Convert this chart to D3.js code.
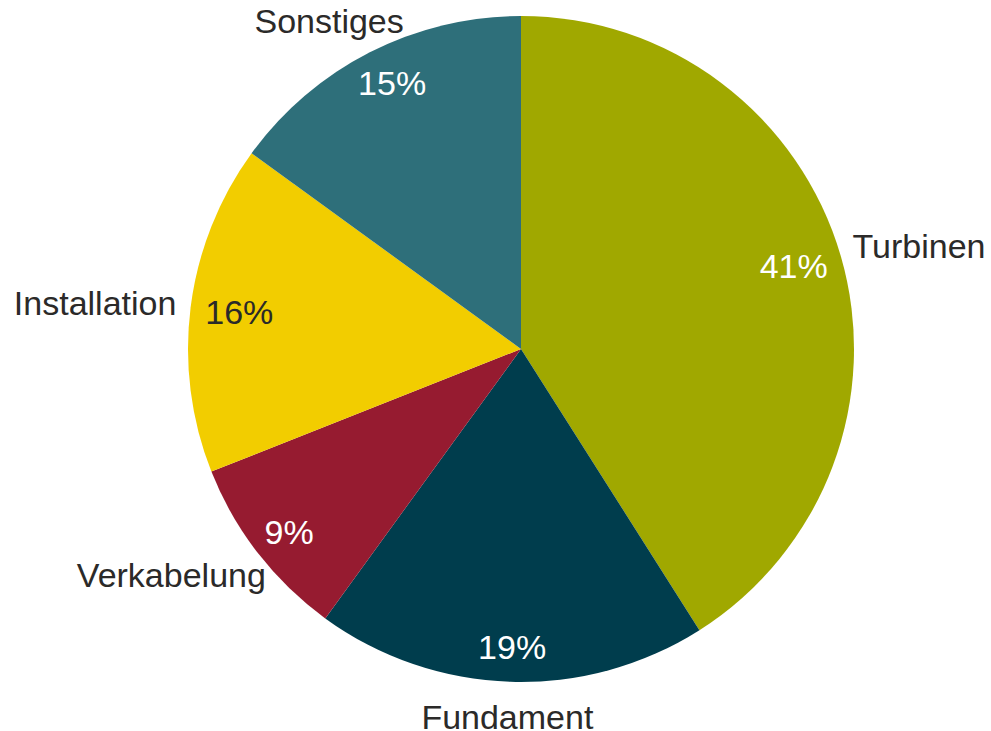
<!DOCTYPE html>
<html>
<head>
<meta charset="utf-8">
<script src="https://cdn.jsdelivr.net/npm/d3@7.9.0/dist/d3.min.js"></script>
<style>
  body { margin: 0; background: #fff; }
  svg text { font-family: "Liberation Sans", Arial, sans-serif; }
</style>
</head>
<body>
<svg id="pie" width="991" height="731"></svg>
<script>
// data, clockwise from 12 o'clock
const categories = ['Turbinen', 'Fundament', 'Verkabelung', 'Installation', 'Sonstiges'];
const shares = [41, 19, 9, 16, 15];
const sliceColors = ['#a0a800', '#003d4d', '#961b30', '#f2cd00', '#2e6f7a'];
const pctColors = ['#ffffff', '#ffffff', '#ffffff', '#2b2a29', '#ffffff'];

const cx = 521, cy = 349, R = 333;
const gap = 15;      // distance of labels from the rim
const boxH = 40;     // approx. line box height of a label

const data = categories.map((c, i) => ({ label: c, value: shares[i], idx: i }));

const pie = d3.pie().value(d => d.value).sort(null);
const arc = d3.arc().innerRadius(0).outerRadius(R);
const arcs = pie(data);

const svg = d3.select('#pie');
const g = svg.append('g').attr('transform', `translate(${cx},${cy})`);

g.selectAll('path')
  .data(arcs)
  .join('path')
  .attr('d', arc)
  .attr('fill', d => sliceColors[d.data.idx]);

// place a text box so that its edge touches the point at radius r
// dir = +1 pushes box outward, -1 pulls it inward
function placeLabel(sel, r, dir) {
  sel.each(function(d) {
    const a = (d.startAngle + d.endAngle) / 2;
    const s = Math.sin(a), c = Math.cos(a);
    const w = this.getComputedTextLength();
    const x = r * s + dir * s * w / 2;
    const y = -r * c - dir * c * boxH / 2;
    d3.select(this).attr('x', x).attr('y', y);
  });
}

// percentages inside
g.selectAll('text.pct')
  .data(arcs)
  .join('text')
  .attr('class', 'pct')
  .attr('text-anchor', 'middle')
  .attr('dominant-baseline', 'central')
  .attr('font-size', 34)
  .attr('fill', d => pctColors[d.data.idx])
  .text(d => d.data.value + '%')
  .call(placeLabel, R - gap, -1);

// category names outside
g.selectAll('text.cat')
  .data(arcs)
  .join('text')
  .attr('class', 'cat')
  .attr('text-anchor', 'middle')
  .attr('dominant-baseline', 'central')
  .attr('font-size', 34)
  .attr('fill', '#2b2a29')
  .text(d => d.data.label)
  .call(placeLabel, R + gap, 1);
</script>
</body>
</html>
